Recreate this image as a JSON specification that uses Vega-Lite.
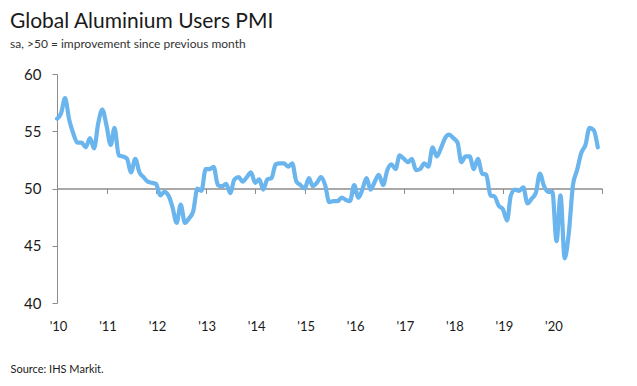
{
  "$schema": "https://vega.github.io/schema/vega-lite/v6.json",
  "autosize": "none",
  "width": 545,
  "height": 229,
  "padding": {"left": 57, "top": 74, "right": 35, "bottom": 83},
  "background": "white",
  "config": {
    "view": {"stroke": null},
    "font": "Lato",
    "axis": {"labelFont": "Lato", "titleFont": "Lato", "grid": false}
  },
  "title": {
    "text": "Global Aluminium Users PMI",
    "subtitle": "sa, >50 = improvement since previous month",
    "anchor": "start",
    "frame": "group",
    "dx": -47,
    "offset": 17,
    "font": "Lato",
    "fontSize": 21,
    "fontWeight": "normal",
    "color": "#1a1a1a",
    "subtitleFont": "Lato",
    "subtitleFontSize": 12,
    "subtitleColor": "#333333",
    "subtitlePadding": 7
  },
  "data": {
    "values": [
      {"d":"2010-01","v":56.1},{"d":"2010-02","v":56.6},{"d":"2010-03","v":57.9},{"d":"2010-04","v":56.0},
      {"d":"2010-05","v":54.8},{"d":"2010-06","v":54.0},{"d":"2010-07","v":54.0},{"d":"2010-08","v":53.6},
      {"d":"2010-09","v":54.4},{"d":"2010-10","v":53.5},{"d":"2010-11","v":55.7},{"d":"2010-12","v":56.9},
      {"d":"2011-01","v":55.5},{"d":"2011-02","v":53.8},{"d":"2011-03","v":55.3},{"d":"2011-04","v":52.9},
      {"d":"2011-05","v":52.8},{"d":"2011-06","v":52.6},{"d":"2011-07","v":51.4},{"d":"2011-08","v":52.6},
      {"d":"2011-09","v":51.4},{"d":"2011-10","v":51.0},{"d":"2011-11","v":50.6},{"d":"2011-12","v":50.5},
      {"d":"2012-01","v":50.4},{"d":"2012-02","v":49.4},{"d":"2012-03","v":49.7},{"d":"2012-04","v":49.4},
      {"d":"2012-05","v":48.4},{"d":"2012-06","v":47.0},{"d":"2012-07","v":48.6},{"d":"2012-08","v":47.0},
      {"d":"2012-09","v":47.4},{"d":"2012-10","v":48.0},{"d":"2012-11","v":50.0},{"d":"2012-12","v":49.8},
      {"d":"2013-01","v":51.7},{"d":"2013-02","v":51.7},{"d":"2013-03","v":51.9},{"d":"2013-04","v":50.3},
      {"d":"2013-05","v":50.2},{"d":"2013-06","v":50.4},{"d":"2013-07","v":49.6},{"d":"2013-08","v":50.8},
      {"d":"2013-09","v":51.0},{"d":"2013-10","v":50.6},{"d":"2013-11","v":51.0},{"d":"2013-12","v":51.4},
      {"d":"2014-01","v":50.5},{"d":"2014-02","v":50.8},{"d":"2014-03","v":49.9},{"d":"2014-04","v":50.8},
      {"d":"2014-05","v":50.9},{"d":"2014-06","v":52.1},{"d":"2014-07","v":52.2},{"d":"2014-08","v":52.2},
      {"d":"2014-09","v":51.9},{"d":"2014-10","v":52.2},{"d":"2014-11","v":50.6},{"d":"2014-12","v":50.3},
      {"d":"2015-01","v":50.0},{"d":"2015-02","v":50.9},{"d":"2015-03","v":50.2},{"d":"2015-04","v":50.5},
      {"d":"2015-05","v":51.0},{"d":"2015-06","v":50.3},{"d":"2015-07","v":48.8},{"d":"2015-08","v":48.9},
      {"d":"2015-09","v":48.9},{"d":"2015-10","v":49.2},{"d":"2015-11","v":49.0},{"d":"2015-12","v":48.9},
      {"d":"2016-01","v":50.3},{"d":"2016-02","v":49.2},{"d":"2016-03","v":49.9},{"d":"2016-04","v":50.9},
      {"d":"2016-05","v":49.9},{"d":"2016-06","v":50.6},{"d":"2016-07","v":51.2},{"d":"2016-08","v":50.3},
      {"d":"2016-09","v":51.6},{"d":"2016-10","v":52.1},{"d":"2016-11","v":51.7},{"d":"2016-12","v":52.9},
      {"d":"2017-01","v":52.6},{"d":"2017-02","v":52.3},{"d":"2017-03","v":52.6},{"d":"2017-04","v":51.6},
      {"d":"2017-05","v":51.7},{"d":"2017-06","v":52.2},{"d":"2017-07","v":51.9},{"d":"2017-08","v":53.6},
      {"d":"2017-09","v":52.8},{"d":"2017-10","v":53.5},{"d":"2017-11","v":54.4},{"d":"2017-12","v":54.7},
      {"d":"2018-01","v":54.4},{"d":"2018-02","v":54.0},{"d":"2018-03","v":52.3},{"d":"2018-04","v":52.8},
      {"d":"2018-05","v":52.8},{"d":"2018-06","v":51.7},{"d":"2018-07","v":52.6},{"d":"2018-08","v":51.3},
      {"d":"2018-09","v":51.2},{"d":"2018-10","v":49.4},{"d":"2018-11","v":49.3},{"d":"2018-12","v":48.5},
      {"d":"2019-01","v":48.2},{"d":"2019-02","v":47.2},{"d":"2019-03","v":49.4},{"d":"2019-04","v":49.9},
      {"d":"2019-05","v":49.8},{"d":"2019-06","v":50.1},{"d":"2019-07","v":48.7},{"d":"2019-08","v":49.1},
      {"d":"2019-09","v":49.6},{"d":"2019-10","v":51.3},{"d":"2019-11","v":50.2},{"d":"2019-12","v":49.7},
      {"d":"2020-01","v":49.7},{"d":"2020-02","v":45.4},{"d":"2020-03","v":49.4},{"d":"2020-04","v":43.9},
      {"d":"2020-05","v":46.1},{"d":"2020-06","v":50.3},{"d":"2020-07","v":51.6},{"d":"2020-08","v":53.1},
      {"d":"2020-09","v":53.8},{"d":"2020-10","v":55.3},{"d":"2020-11","v":55.1},{"d":"2020-12","v":53.6}
    ]
  },
  "layer": [
    {
      "mark": {"type": "line", "color": "#6ab5ed", "strokeWidth": 4.2, "interpolate": "monotone", "strokeCap": "round", "strokeJoin": "round"},
      "encoding": {
        "x": {
          "field": "d", "type": "temporal",
          "scale": {"type": "utc", "domain": [{"year": 2010, "month": 1, "date": 1, "utc": true}, {"year": 2021, "month": 1, "date": 1, "utc": true}]},
          "axis": {
            "orient": "bottom",
            "domain": false,
            "ticks": false,
            "tickSize": 0,
            "values": [
              {"year": 2010, "month": 1, "date": 1, "utc": true},{"year": 2011, "month": 1, "date": 1, "utc": true},
              {"year": 2012, "month": 1, "date": 1, "utc": true},{"year": 2013, "month": 1, "date": 1, "utc": true},
              {"year": 2014, "month": 1, "date": 1, "utc": true},{"year": 2015, "month": 1, "date": 1, "utc": true},
              {"year": 2016, "month": 1, "date": 1, "utc": true},{"year": 2017, "month": 1, "date": 1, "utc": true},
              {"year": 2018, "month": 1, "date": 1, "utc": true},{"year": 2019, "month": 1, "date": 1, "utc": true},
              {"year": 2020, "month": 1, "date": 1, "utc": true}
            ],
            "format": "'%y",
            "labelFontSize": 13,
            "labelColor": "#1a1a1a",
            "labelPadding": 17,
            "labelAlign": "center",
            "labelBaseline": "top",
            "labelFlush": false,
            "labelOverlap": false,
            "labelOffset": 1,
            "title": "Source: IHS Markit.",
            "titleFontSize": 11,
            "titleFontWeight": "normal",
            "titleColor": "#1a1a1a",
            "titleAnchor": "start",
            "titleAlign": "left",
            "titleBaseline": "alphabetic",
            "titleX": -47,
            "titleY": 69
          }
        },
        "y": {
          "field": "v", "type": "quantitative",
          "scale": {"domain": [40, 60], "zero": false, "nice": false},
          "axis": {
            "values": [40, 45, 50, 55, 60],
            "title": null,
            "domainColor": "#8c8c8c",
            "tickColor": "#8c8c8c",
            "tickSize": 5,
            "labelPadding": 11,
            "labelFontSize": 15,
            "labelColor": "#1a1a1a"
          }
        }
      }
    },
    {
      "mark": {"type": "line", "opacity": 0},
      "encoding": {
        "x": {
          "field": "d", "type": "temporal",
          "axis": {
            "orient": "bottom",
            "offset": -114.5,
            "labels": false,
            "domain": true,
            "domainColor": "#8c8c8c",
            "domainWidth": 1.5,
            "ticks": true,
            "tickColor": "#8c8c8c",
            "tickSize": 5,
            "title": null,
            "values": [
              {"year": 2010, "month": 1, "date": 1, "utc": true},{"year": 2011, "month": 1, "date": 1, "utc": true},
              {"year": 2012, "month": 1, "date": 1, "utc": true},{"year": 2013, "month": 1, "date": 1, "utc": true},
              {"year": 2014, "month": 1, "date": 1, "utc": true},{"year": 2015, "month": 1, "date": 1, "utc": true},
              {"year": 2016, "month": 1, "date": 1, "utc": true},{"year": 2017, "month": 1, "date": 1, "utc": true},
              {"year": 2018, "month": 1, "date": 1, "utc": true},{"year": 2019, "month": 1, "date": 1, "utc": true},
              {"year": 2020, "month": 1, "date": 1, "utc": true},{"year": 2021, "month": 1, "date": 1, "utc": true}
            ]
          }
        },
        "y": {"field": "v", "type": "quantitative"}
      }
    }
  ],
  "resolve": {"axis": {"x": "independent"}}
}
